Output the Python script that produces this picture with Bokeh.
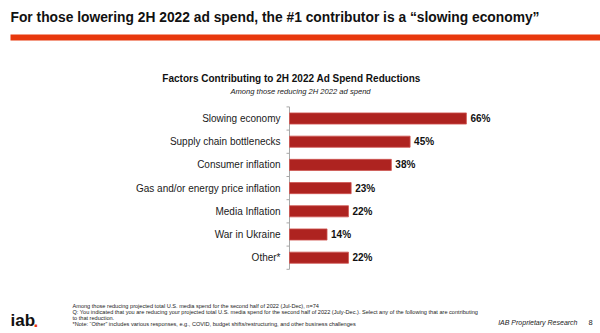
from bokeh.plotting import figure
from bokeh.models import Label, BoxAnnotation, Range1d, ColumnDataSource
from bokeh.core.properties import value
from bokeh.embed import file_html
from bokeh.resources import INLINE

categories = ["Slowing economy", "Supply chain bottlenecks", "Consumer inflation",
              "Gas and/or energy price inflation", "Media Inflation", "War in Ukraine", "Other*"]
values = [66, 45, 38, 23, 22, 14, 22]
value_labels = [f"{v}%" for v in values]

headline = "For those lowering 2H 2022 ad spend, the #1 contributor is a \u201cslowing economy\u201d"
chart_title = "Factors Contributing to 2H 2022 Ad Spend Reductions"
chart_subtitle = "Among those reducing 2H 2022 ad spend"
footnotes = [
    "Among those reducing projected total U.S. media spend for the second half of 2022 (Jul-Dec), n=74",
    "Q: You indicated that you are reducing your projected total U.S. media spend for the second half of 2022 (July-Dec.). Select any of the following that are contributing",
    "to that reduction.",
    "*Note: \u201cOther\u201d includes various responses, e.g., COVID, budget shifts/restructuring, and other business challenges",
]
source_text = "IAB Proprietary Research"
page_number = "8"

W, H = 600, 333
FONT = "Liberation Sans"

# layout: value 0 at x=289 px, 2.68 px per percent; category rows 23.2 px apart, first centre at y=118 px
X0, PXV = 289.0, 2.68
Y0, PXC = 118.0, 23.2

n = len(categories)
rows = list(range(n))
src = ColumnDataSource(dict(cat=categories, row=rows, val=values, lab=value_labels))

p = figure(width=W, height=H, output_backend="svg", toolbar_location=None,
           x_range=Range1d(-X0 / PXV, (W - X0) / PXV),
           y_range=Range1d((H - Y0) / PXC, -Y0 / PXC),
           min_border=0, min_border_left=0, min_border_right=0,
           min_border_top=0, min_border_bottom=0)
p.axis.visible = False
p.grid.visible = False
p.outline_line_color = None
p.background_fill_color = "white"
p.border_fill_color = "white"

# category axis line with boundary ticks
AXIS_C = "#A8A8A8"
p.segment(x0=[0], x1=[0], y0=[-0.5], y1=[n - 0.5], line_color=AXIS_C, line_width=1)
bounds = [r - 0.5 for r in range(n + 1)]
p.segment(x0=[-3 / PXV] * len(bounds), x1=[0] * len(bounds), y0=bounds, y1=bounds,
          line_color=AXIS_C, line_width=1)

p.hbar(y="row", right="val", left=0, height=0.48, source=src,
       fill_color="#AE2320", line_color="#CF5550", line_width=0.8)
p.text(x="val", y="row", text="lab", source=src, x_offset=4,
       text_baseline="middle", text_align="left", text_font=value(FONT),
       text_font_style="bold", text_font_size="10px", text_color="#111111")
p.text(x=0, y="row", text="cat", source=src, x_offset=-9,
       text_baseline="middle", text_align="right", text_font=value(FONT),
       text_font_size="10px", text_color="#1a1a1a")


def lab(x, y, text, size, style="normal", color="#111111", align="left", baseline="middle"):
    # x, y are canvas pixel coordinates from the top-left
    p.add_layout(Label(x=x, y=H - y, x_units="screen", y_units="screen",
                       text=text, text_font=FONT, text_font_size=size, text_font_style=style,
                       text_color=color, text_align=align, text_baseline=baseline))


lab(10, 17, headline, "13.8px", "bold", "#111111")
p.add_layout(BoxAnnotation(left=10, right=600, top=H - 34, bottom=H - 40,
                           left_units="screen", right_units="screen", top_units="screen", bottom_units="screen",
                           fill_color="#E8380D", fill_alpha=1, line_color=None))
lab(291, 78, chart_title, "10px", "bold", "#111111", align="center")
lab(300, 91, chart_subtitle, "7.6px", "italic", "#222222", align="center")

for i, t in enumerate(footnotes):
    lab(72, 305 + i * 6.2, t, "5.6px", "normal", "#222222")
lab(577, 322, source_text, "7px", "italic", "#222222", align="right")
lab(588, 322, page_number, "7.5px", "normal", "#222222")
lab(10, 320, "iab", "17px", "bold", "#111111")
lab(33, 320, ".", "17px", "bold", "#E8380D")

open("out.html", "w").write(file_html(p, INLINE))
